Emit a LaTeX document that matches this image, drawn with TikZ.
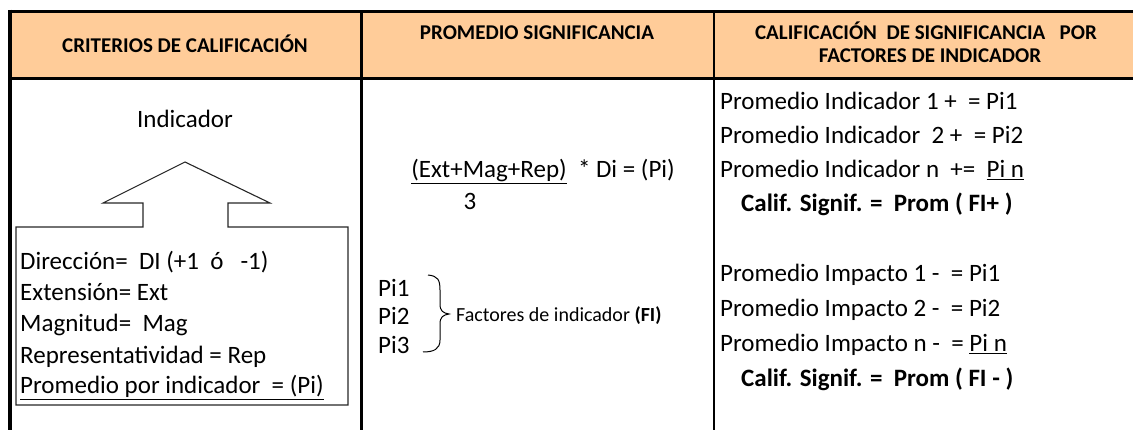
\documentclass[tikz,border=0pt]{standalone}
\usepackage{fontspec}
\setmainfont{Carlito}
\definecolor{peach}{HTML}{FFCC99}
\begin{document}
\begin{tikzpicture}
		    [%%%%%%%%%%%%%%%%%%%%%%%%%%%%%%
		        x=1pt, y=-1pt,
		        head/.style={font=\fontsize{21}{23}\selectfont\bfseries, inner sep=0pt, anchor=base},
		        txt/.style={font=\fontsize{25}{27}\selectfont, inner sep=0pt, anchor=base west},
		        califtxt/.style={txt, font=\fontsize{25}{27}\selectfont\bfseries},
		        smalltxt/.style={txt, font=\fontsize{20}{22}\selectfont},
		        border/.style={line width=3.5pt},
		        divider/.style={line width=2.5pt},
		        outline/.style={line width=1.1pt, draw=black!85},
		    ]%%%%%%%%%%%%%%%%%%%%%%%%%%%%%%
		\useasboundingbox (0,0) rectangle (1133,430);
		% header band
		\fill[peach] (10,11.5) rectangle (1133,78.5);
		\draw[border] (8,11.5) -- (1133,11.5);
		\draw[border] (8,78.5) -- (1133,78.5);
		\draw[line width=4pt] (10,9.75) -- (10,430);
		\draw[divider] (361.5,11.5) -- (361.5,430);
		\draw[divider] (714,11.5) -- (714,430);
		\node[head] (h1) at (185,53) {CRITERIOS DE CALIFICACIÓN};
		\node[head] (h2) at (537,40) {PROMEDIO SIGNIFICANCIA};
		\node[head] (h3a) at (926,40) {CALIFICACIÓN\ \ DE SIGNIFICANCIA\ \ \ POR};
		\node[head] (h3b) at (930,63) {FACTORES DE INDICADOR};
		% criterios
		\node[txt, anchor=base] (ind) at (185,128) {Indicador};
		\draw[outline] (16,227) -- (143,227) -- (143,203) -- (103,203) -- (185,162)
		    -- (270,203) -- (228,203) -- (228,227) -- (348,227) -- (348,405) -- (16,405) -- cycle;
		\node[txt] (dir) at (20,270) {Dirección=\ \ DI (+1\ \ ó\ \ \ -1)};
		\node[txt] (ext) at (20,301) {Extensión= Ext};
		\node[txt] (mag) at (20,332) {Magnitud=\ \ Mag};
		\node[txt] (rep) at (20,363) {Representatividad = Rep};
		\node[txt] (prom) at (20,394) {\underline{Promedio por indicador\ \ = (Pi)}};
		% promedio significancia
		\node[txt, anchor=base east] (form) at (675,178) {\underline{(Ext+Mag+Rep)}\ \ * Di = (Pi)};
		\node[txt, anchor=base] (tres) at (470,210) {3};
		\node[txt] (pi1) at (378,297) {Pi1};
		\node[txt] (pi2) at (378,325) {Pi2};
		\node[txt] (pi3) at (378,354) {Pi3};
		\draw[line width=1pt] (428,275) .. controls (438,276) and (440,280) .. (440,290)
		    -- (440,304) .. controls (440,311) and (443,313) .. (449,314)
		    .. controls (443,315) and (440,317) .. (440,324)
		    -- (440,340) .. controls (440,349) and (434,352) .. (423,352);
		\node[smalltxt] (fi) at (456,322) {Factores de indicador \textbf{(FI)}};
		% calificacion
		\node[txt] (r1) at (720,110) {Promedio Indicador 1 +\ \ = Pi1};
		\node[txt] (r2) at (720,144) {Promedio Indicador\ \ 2 +\ \ = Pi2};
		\node[txt] (r3) at (720,178) {Promedio Indicador n\ \ +=\ \ \underline{Pi n}};
		\node[califtxt] (r4) at (741,212) {Calif. Signif. =\ \ Prom ( FI+ )};
		\node[txt] (r5) at (720,282) {Promedio Impacto 1 -\ \ = Pi1};
		\node[txt] (r6) at (720,317) {Promedio Impacto 2 -\ \ = Pi2};
		\node[txt] (r7) at (720,352) {Promedio Impacto n -\ \ = \underline{Pi n}};
		\node[califtxt] (r8) at (741,386) {Calif. Signif. =\ \ Prom ( FI - )};
		\end{tikzpicture}
\end{document}
